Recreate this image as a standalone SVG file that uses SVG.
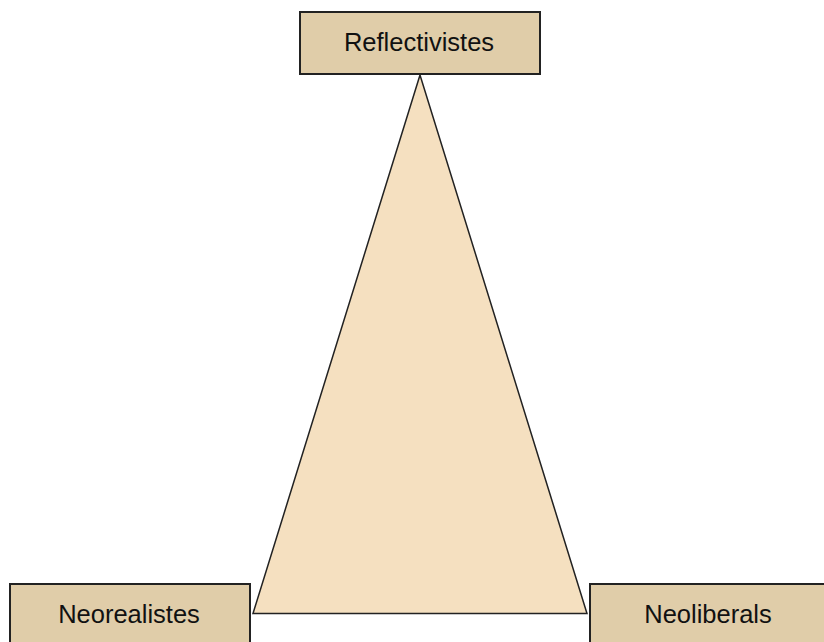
<svg xmlns="http://www.w3.org/2000/svg" width="824" height="642" viewBox="0 0 824 642">
<style>
.box{fill:#E0CDA9;stroke:#222;stroke-width:2}
.lbl{font-family:"Liberation Sans",Arial,sans-serif;font-size:25.5px;fill:#111;text-anchor:middle}
.tri{fill:#F5E0C0;stroke:#222;stroke-width:1.5;stroke-linejoin:miter}
</style>
<rect width="824" height="642" fill="#fff"/>
<g id="connectors">
<polygon class="tri" points="420,75 253,613.5 587,613.5"/>
</g>
<g id="reflectivistes">
<rect class="box" x="300" y="12" width="240" height="62"/>
<text class="lbl" x="419" y="51">Reflectivistes</text>
</g>
<g id="neorealistes">
<rect class="box" x="10" y="584" width="240" height="62"/>
<text class="lbl" x="129" y="622.5">Neorealistes</text>
</g>
<g id="neoliberals">
<rect class="box" x="590" y="584" width="240" height="62"/>
<text class="lbl" x="708" y="622.5">Neoliberals</text>
</g>
</svg>
